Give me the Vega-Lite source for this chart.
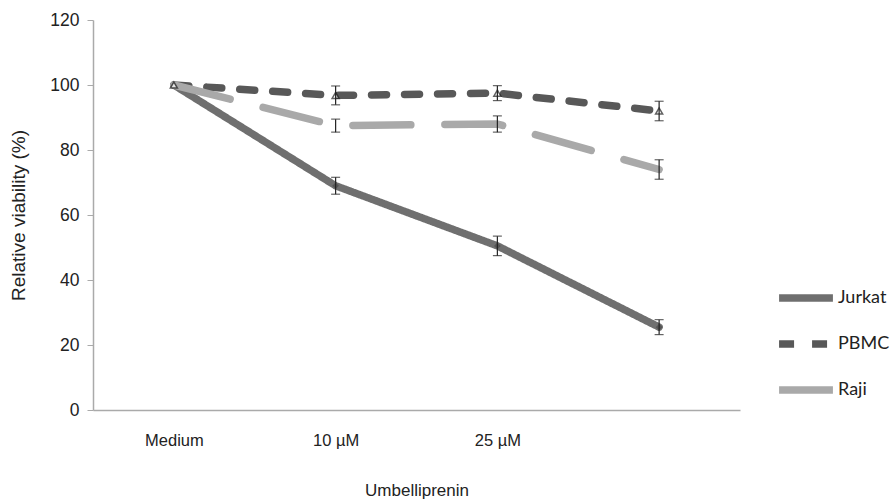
{
  "$schema": "https://vega.github.io/schema/vega-lite/v6.json",
  "autosize": "none",
  "width": 647,
  "height": 390,
  "padding": {"left": 93, "top": 20, "right": 152, "bottom": 92},
  "background": "white",
  "config": {
    "view": {"stroke": null},
    "font": "Liberation Sans"
  },
  "data": {
    "values": [
      {"dose": "Medium", "cell": "Jurkat", "v": 100, "lo": 100, "hi": 100},
      {"dose": "10 µM", "cell": "Jurkat", "v": 69, "lo": 66.4, "hi": 71.6},
      {"dose": "25 µM", "cell": "Jurkat", "v": 50.5, "lo": 47.5, "hi": 53.5},
      {"dose": "50 µM", "cell": "Jurkat", "v": 25.5, "lo": 23.2, "hi": 27.8},
      {"dose": "Medium", "cell": "PBMC", "v": 100, "lo": 100, "hi": 100},
      {"dose": "10 µM", "cell": "PBMC", "v": 96.8, "lo": 93.9, "hi": 99.7},
      {"dose": "25 µM", "cell": "PBMC", "v": 97.5, "lo": 95.2, "hi": 99.8},
      {"dose": "50 µM", "cell": "PBMC", "v": 92, "lo": 89, "hi": 95},
      {"dose": "Medium", "cell": "Raji", "v": 100, "lo": 100, "hi": 100},
      {"dose": "10 µM", "cell": "Raji", "v": 87.5, "lo": 85.5, "hi": 89.5},
      {"dose": "25 µM", "cell": "Raji", "v": 88, "lo": 85.5, "hi": 90.5},
      {"dose": "50 µM", "cell": "Raji", "v": 74, "lo": 71, "hi": 77}
    ]
  },
  "encoding": {
    "x": {
      "field": "dose", "type": "ordinal", "sort": null,
      "scale": {"type": "point", "padding": 0.5},
      "axis": {
        "title": "Umbelliprenin", "labelAngle": 0, "ticks": false,
        "labelExpr": "datum.value == '50 µM' ? '' : datum.value",
        "domainColor": "#aaaaaa", "domainWidth": 1.5,
        "labelFontSize": 16.5, "labelColor": "#222222", "labelPadding": 22,
        "titleFontSize": 17, "titleFontWeight": "normal", "titleColor": "#222222", "titlePadding": 34
      }
    }
  },
  "layer": [
    {
      "mark": {"type": "line", "strokeWidth": 7.5, "strokeCap": "round", "strokeJoin": "round"},
      "encoding": {
        "y": {
          "field": "v", "type": "quantitative",
          "scale": {"domain": [0, 120]},
          "axis": {
            "title": "Relative viability (%)", "values": [0, 20, 40, 60, 80, 100, 120],
            "grid": false, "domainColor": "#aaaaaa", "domainWidth": 1.5,
            "tickColor": "#aaaaaa", "tickSize": 6,
            "labelFontSize": 17.5, "labelColor": "#222222", "labelPadding": 8,
            "titleFontSize": 19, "titleFontWeight": "normal", "titleColor": "#222222", "titlePadding": 21
          }
        },
        "color": {
          "field": "cell", "type": "nominal",
          "scale": {"domain": ["Jurkat", "PBMC", "Raji"], "range": ["#6f6f6f", "#585858", "#a9a9a9"]},
          "legend": {
            "title": null, "orient": "none", "legendX": 682, "legendY": 247,
            "symbolType": "stroke", "symbolSize": 2900, "symbolStrokeWidth": 7.5,
            "labelFont": "Lato", "labelFontSize": 18, "labelColor": "#222222",
            "rowPadding": -9, "labelOffset": 1
          }
        },
        "strokeDash": {
          "field": "cell", "type": "nominal",
          "scale": {"domain": ["Jurkat", "PBMC", "Raji"], "range": [[1, 0], [15, 18], [58, 34]]},
          "legend": null
        }
      }
    },
    {
      "transform": [{"filter": "datum.cell == 'Jurkat' && datum.dose != 'Medium'"}],
      "mark": {"type": "point", "shape": "diamond", "filled": true, "color": "#4a4a4a", "size": 45},
      "encoding": {"y": {"field": "v", "type": "quantitative"}}
    },
    {
      "transform": [{"filter": "datum.cell == 'PBMC'"}],
      "mark": {"type": "point", "shape": "triangle-up", "filled": false, "fill": "white", "stroke": "#222222", "strokeWidth": 1.5, "size": 50},
      "encoding": {"y": {"field": "v", "type": "quantitative"}}
    },
    {
      "transform": [{"filter": "datum.dose != 'Medium'"}],
      "mark": {"type": "rule", "color": "#222222", "strokeWidth": 1.2},
      "encoding": {
        "y": {"field": "lo", "type": "quantitative"},
        "y2": {"field": "hi"}
      }
    },
    {
      "transform": [{"filter": "datum.dose != 'Medium'"}],
      "mark": {"type": "tick", "orient": "horizontal", "color": "#222222", "size": 9, "thickness": 1.2},
      "encoding": {"y": {"field": "lo", "type": "quantitative"}}
    },
    {
      "transform": [{"filter": "datum.dose != 'Medium'"}],
      "mark": {"type": "tick", "orient": "horizontal", "color": "#222222", "size": 9, "thickness": 1.2},
      "encoding": {"y": {"field": "hi", "type": "quantitative"}}
    }
  ]
}
